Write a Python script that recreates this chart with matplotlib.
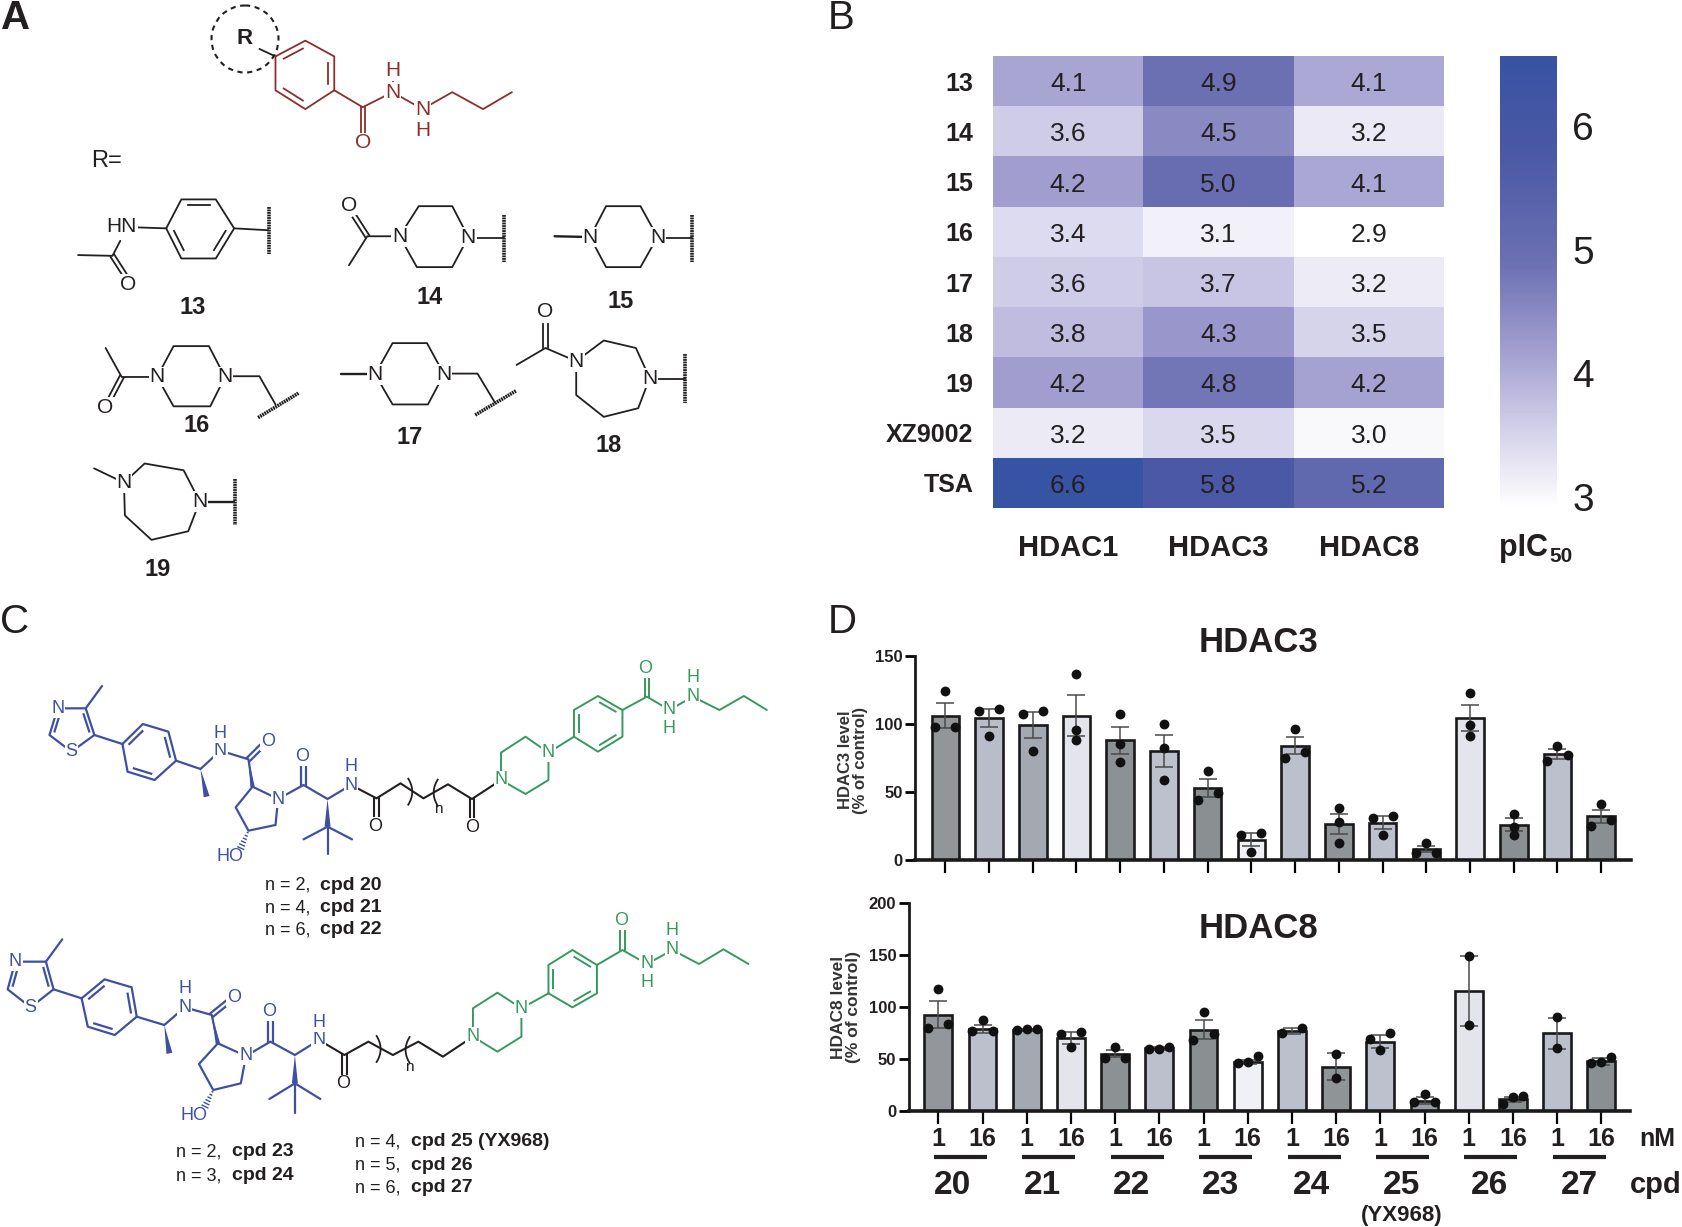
import matplotlib

matplotlib.use("Agg")
import matplotlib.pyplot as plt
import numpy as np
from matplotlib.colors import LinearSegmentedColormap, Normalize
from matplotlib.patches import Circle, Polygon

W, H = 1683, 1227
FONT = ["Liberation Sans", "DejaVu Sans"]
plt.rcParams["font.family"] = FONT

# panel B
ROWS = ["13", "14", "15", "16", "17", "18", "19", "XZ9002", "TSA"]
ENZYMES = ["HDAC1", "HDAC3", "HDAC8"]
PIC50 = [
    [4.10, 4.90, 4.06],
    [3.60, 4.50, 3.22],
    [4.20, 5.00, 4.08],
    [3.40, 3.10, 2.91],
    [3.60, 3.70, 3.18],
    [3.80, 4.30, 3.50],
    [4.20, 4.80, 4.15],
    [3.20, 3.45, 3.00],
    [6.57, 5.80, 5.20],
]
CMAP_VALUES = [2.91, 3.6, 4.2, 4.9, 5.8, 6.57]
CMAP_COLOURS = ["#ffffff", "#cfcce8", "#a19dcf", "#6b70b2", "#4a58a5", "#3753a3"]

# panel D
DOSES = ["1", "16"] * 8
COMPOUNDS = ["20", "21", "22", "23", "24", "25", "26", "27"]

HDAC3_MEAN = [106, 104, 99, 106, 88, 80, 53, 15, 84, 26.5, 27.5, 8, 104.5, 26, 78, 32]
HDAC3_SEM = [9.3, 6.7, 9.3, 15, 10, 12, 6.5, 4.8, 6.5, 7.5, 4.5, 2, 9.5, 4.7, 3.5, 4.7]
HDAC3_POINTS = [
    [124, 97.6, 97.6], [111, 109.4, 91], [109.4, 107, 80], [136.5, 95.4, 88],
    [107, 85, 72], [100, 82, 59], [65, 49, 44], [19.6, 18, 5.6],
    [96.4, 79.5, 75], [38, 28, 12.5], [32.5, 30.6, 18], [12.5, 5.4, 5.4],
    [122.6, 99, 91], [33.5, 24.5, 18], [84, 77, 72.5], [41, 29.4, 24.7],
]
HDAC3_COLOURS = [
    "#939699", "#b9bdca", "#a4a8b1", "#e3e4ec", "#8c9193", "#bcc1cd", "#8a9092", "#f0f1f5",
    "#bcc0cd", "#8f9497", "#bdc1ce", "#9a9ea4", "#e3e4ec", "#8a8f92", "#bcc0cd", "#8a8f92",
]

HDAC8_MEAN = [92.3, 79, 78, 70, 55, 60, 78, 47, 76.5, 42.5, 66.5, 9.5, 115, 11, 74.5, 47.5]
HDAC8_SEM = [13, 4, 1, 5.5, 3.5, 1.5, 9, 2, 3, 13, 6, 3.5, 33.5, 2.5, 15, 3.5]
HDAC8_POINTS = [
    [117, 83.6, 79.4], [87, 77, 77], [78, 78.5, 78.5], [76, 74.3, 61.7],
    [61.7, 51, 51], [61.4, 59.5, 59], [95, 74, 68], [53, 46.6, 45.7],
    [79.4, 75], [54.7, 31.8], [75, 69.5, 58], [16, 8, 8],
    [148.5, 83], [14.5, 13, 6.4], [90, 60], [51.5, 47, 45.7],
]
HDAC8_COLOURS = [
    "#93979b", "#bcc0cd", "#a4a8b1", "#e3e4ec", "#8c9193", "#bcc0cd", "#8a9092", "#f0f1f5",
    "#bcc0cd", "#8f9497", "#bdc1ce", "#9a9ea4", "#e3e4ec", "#8a8f92", "#bcc0cd", "#8a8f92",
]

RED = "#8b2f2b"
BLUE = "#3f50a2"
GREEN = "#369a5e"
INK = "#231f20"

# zoomed-crop scale and origin used when the structures were traced
ZA = (2.178, 2.658, 0, 0)
ZC1 = (1.96, 3.0, 0, 600)
ZC2 = (1.96, 3.0, 0, 900)


def rect(left, top, right, bottom):
    return [left / W, 1 - bottom / H, (right - left) / W, (bottom - top) / H]


fig = plt.figure(figsize=(W / 100, H / 100), dpi=100)
sheet = fig.add_axes([0, 0, 1, 1], zorder=5)
sheet.set_xlim(0, W)
sheet.set_ylim(H, 0)
sheet.axis("off")
sheet.patch.set_alpha(0)


def px(p, z):
    return np.array([p[0] / z[0] + z[2], p[1] / z[1] + z[3]])


def line(pts, z, color=INK, lw=1.3):
    xy = np.array([px(p, z) for p in pts])
    sheet.plot(xy[:, 0], xy[:, 1], color=color, lw=lw, solid_capstyle="round", zorder=1)


def double(p, q, z, color=INK, lw=1.3, gap=2.2):
    a, b = px(p, z), px(q, z)
    n = np.array([b[1] - a[1], a[0] - b[0]])
    n = n / np.hypot(*n) * gap
    for s in (-1, 1):
        sheet.plot([a[0] + s * n[0], b[0] + s * n[0]], [a[1] + s * n[1], b[1] + s * n[1]],
                   color=color, lw=lw, zorder=1)


def ring(pts, z, color=INK, lw=1.3, inner=()):
    line(list(pts) + [pts[0]], z, color, lw)
    xy = np.array([px(p, z) for p in pts])
    mid = xy.mean(axis=0)
    for i in inner:
        a, b = xy[i], xy[(i + 1) % len(xy)]
        a2 = a + (mid - a) * 0.2 + (b - a) * 0.08
        b2 = b + (mid - b) * 0.2 + (a - b) * 0.08
        sheet.plot([a2[0], b2[0]], [a2[1], b2[1]], color=color, lw=lw, zorder=1)


def wedge(p, q, z, color=BLUE, width=3.0):
    a, b = px(p, z), px(q, z)
    n = np.array([b[1] - a[1], a[0] - b[0]])
    n = n / np.hypot(*n) * width
    sheet.add_patch(Polygon([a, b + n, b - n], closed=True, color=color, lw=0, zorder=1))


def hashed(p, q, z, color=BLUE):
    a, b = px(p, z), px(q, z)
    n = np.array([b[1] - a[1], a[0] - b[0]])
    n = n / np.hypot(*n)
    for t in np.linspace(0.1, 0.9, 6):
        c = a + (b - a) * t
        sheet.plot([c[0] - n[0] * 3.5 * t, c[0] + n[0] * 3.5 * t],
                   [c[1] - n[1] * 3.5 * t, c[1] + n[1] * 3.5 * t], color=color, lw=1, zorder=1)


def squiggle(p, q, z):
    xy = np.array([px(p, z), px(q, z)])
    sheet.plot(xy[:, 0], xy[:, 1], color=INK, lw=2.6, ls=(0, (0.5, 0.2)), zorder=1)


def atom(text, p, z, color=INK, size=15, bg=True, weight="normal"):
    x, y = px(p, z)
    box = dict(fc="white", ec="none", pad=0.6) if bg else None
    sheet.text(x, y, text, color=color, fontsize=size, ha="center", va="center",
               fontweight=weight, bbox=box, zorder=3)


def label(text, x, y, size, weight="bold", ha="center", color=INK):
    sheet.text(x, y, text, fontsize=size, fontweight=weight, ha=ha, va="center", color=color, zorder=4)


# ---------------- panel A ----------------
label("A", 1, 18, 29, ha="left")
sheet.add_patch(Circle((245, 39), 33.5, fill=False, ec=INK, lw=1.5, ls=(0, (2.5, 2.2)), zorder=1))
atom("R", (533, 103), ZA, size=16, bg=False, weight="bold")
line([(565, 130), (600, 150)], ZA)
ring([(600, 150), (665, 108), (728, 150), (728, 240), (665, 290), (600, 240)], ZA, RED,
     inner=[0, 2, 4])
line([(728, 240), (790, 285), (855, 245)], ZA, RED)
double((790, 285), (790, 355), ZA, RED)
atom("O", (790, 380), ZA, RED)
line([(855, 245), (920, 290), (985, 245), (1052, 290), (1115, 245)], ZA, RED)
line([(855, 245), (855, 200)], ZA, RED)
atom("N", (855, 245), ZA, RED)
atom("H", (855, 187), ZA, RED)
atom("N", (920, 290), ZA, RED)
atom("H", (920, 347), ZA, RED)
label("R=", 107, 161, 17, weight="normal")

# 13
ring([(362, 607), (395, 530), (470, 530), (510, 607), (470, 687), (395, 687)], ZA, inner=[1, 3, 5])
line([(265, 603), (362, 607)], ZA)
line([(510, 607), (585, 612)], ZA)
line([(262, 640), (245, 680), (170, 678)], ZA)
double((245, 680), (274, 735), ZA)
atom("HN", (265, 603), ZA)
atom("O", (280, 757), ZA)
squiggle((585, 550), (585, 675), ZA)
label("13", 193, 307, 17)

# 14
ring([(870, 628), (912, 548), (985, 548), (1020, 630), (985, 710), (908, 710)], ZA)
line([(760, 705), (800, 628), (870, 628)], ZA)
double((800, 628), (772, 575), ZA)
line([(1020, 632), (1097, 632)], ZA)
atom("O", (760, 545), ZA)
atom("N", (870, 628), ZA)
atom("N", (1020, 630), ZA)
squiggle((1097, 572), (1097, 697), ZA)
label("14", 430, 297, 17)

# 15
ring([(1285, 630), (1320, 548), (1395, 548), (1432, 630), (1395, 710), (1320, 710)], ZA)
line([(1208, 628), (1285, 630)], ZA, lw=1.7)
line([(1432, 632), (1508, 632)], ZA)
atom("N", (1285, 630), ZA)
atom("N", (1432, 630), ZA)
squiggle((1508, 572), (1508, 697), ZA)
label("15", 621, 301, 17)

# 16
ring([(342, 1002), (378, 920), (455, 920), (490, 1002), (458, 1080), (378, 1080)], ZA)
line([(230, 925), (265, 1002), (342, 1002)], ZA)
double((265, 1002), (240, 1060), ZA)
line([(490, 1000), (565, 1000), (600, 1075)], ZA)
atom("O", (230, 1082), ZA)
atom("N", (342, 1002), ZA)
atom("N", (490, 1002), ZA)
squiggle((562, 1110), (650, 1045), ZA)
label("16", 197, 425, 17)

# 17
ring([(817, 995), (855, 912), (930, 912), (967, 995), (932, 1075), (855, 1075)], ZA)
line([(742, 995), (817, 995)], ZA, lw=1.7)
line([(967, 993), (1040, 993), (1078, 1070)], ZA)
atom("N", (817, 995), ZA)
atom("N", (967, 995), ZA)
squiggle((1035, 1103), (1125, 1038), ZA)
label("17", 410, 438, 17)

# 18
ring([(1255, 960), (1315, 905), (1385, 925), (1415, 1005), (1390, 1085), (1315, 1108), (1255, 1050)], ZA)
line([(1125, 970), (1188, 925), (1255, 960)], ZA)
double((1188, 925), (1188, 860), ZA)
line([(1415, 1007), (1492, 1007)], ZA)
atom("O", (1187, 828), ZA)
atom("N", (1255, 960), ZA)
atom("N", (1415, 1005), ZA)
squiggle((1493, 942), (1493, 1070), ZA)
label("18", 609, 445, 17)

# 19
ring([(270, 1283), (315, 1232), (400, 1250), (435, 1333), (410, 1412), (330, 1435), (272, 1370)], ZA)
line([(205, 1245), (270, 1283)], ZA)
line([(435, 1335), (510, 1335)], ZA, lw=1.7)
atom("N", (270, 1283), ZA)
atom("N", (435, 1333), ZA)
squiggle((511, 1272), (511, 1395), ZA)
label("19", 158, 570, 17)


# ---------------- panel C ----------------
def vhl_part(z, c):
    """Blue ligand half; c holds the traced anchor coordinates for this drawing."""
    ring(c["thiazole"], z, BLUE, 1.6, inner=[1, 4])
    line([c["thiazole"][1], c["methyl"]], z, BLUE, 1.6)
    line([c["thiazole"][2], c["phenyl"][0]], z, BLUE, 1.6)
    ring(c["phenyl"], z, BLUE, 1.6, inner=[0, 2, 4])
    line([c["phenyl"][3], c["chiral"], c["nh"], c["amide"], c["pyr"][0]], z, BLUE, 1.6)
    wedge(c["chiral"], c["me"], z)
    wedge(c["amide"], c["pyr"][0], z, width=2.2)
    double(c["amide"], c["o1_end"], z, BLUE, 1.6)
    ring(c["pyr"], z, BLUE, 1.6)
    hashed(c["pyr"][3], c["ho_end"], z)
    line([c["pyr"][1], c["c2"], c["c3"], c["nh2"]], z, BLUE, 1.6)
    double(c["c2"], c["o2_end"], z, BLUE, 1.6)
    wedge(c["c3"], c["tbu"], z)
    for end in c["tbu_ends"]:
        line([c["tbu"], end], z, BLUE, 1.6)
    atom("N", c["thiazole"][0], z, BLUE, 13)
    atom("S", c["thiazole"][3], z, BLUE, 13)
    atom("N", c["nh"], z, BLUE, 13)
    atom("H", c["h1"], z, BLUE, 13)
    atom("O", c["o1"], z, BLUE, 13)
    atom("N", c["pyr"][1], z, BLUE, 13)
    atom("O", c["o2"], z, BLUE, 13)
    atom("N", c["nh2"], z, BLUE, 13)
    atom("H", c["h2"], z, BLUE, 13)
    atom("HO", c["ho"], z, BLUE, 13, bg=False)


def hydrazide_part(z, c):
    ring(c["pip"], z, GREEN, 1.4)
    line([c["pip"][3], c["ph"][0]], z, GREEN, 1.4)
    ring(c["ph"], z, GREEN, 1.4, inner=[0, 2, 4])
    line([c["ph"][3], c["co"], c["n1"], c["n2"]] + c["tail"], z, GREEN, 1.4)
    double(c["co"], c["o_end"], z, GREEN, 1.4)
    atom("N", c["pip"][0], z, GREEN, 13)
    atom("N", c["pip"][3], z, GREEN, 13)
    atom("O", c["o"], z, GREEN, 13)
    atom("N", c["n1"], z, GREEN, 13)
    atom("H", c["h1"], z, GREEN, 13)
    atom("N", c["n2"], z, GREEN, 13)
    atom("H", c["h2"], z, GREEN, 13)


def bracket(p, z, sign):
    x, y = px(p, z)
    t = np.linspace(-1, 1, 20)
    sheet.plot(x + sign * 4 * t ** 2, y + 13 * t, color=INK, lw=1.3, zorder=2)


label("C", 0, 622, 29, ha="left", weight="normal")

vhl_part(ZC1, dict(
    thiazole=[(113, 325), (168, 325), (185, 405), (140, 455), (97, 405)], methyl=(200, 258),
    phenyl=[(240, 432), (280, 372), (330, 395), (345, 482), (303, 540), (250, 515)],
    chiral=(393, 507), me=(405, 590), nh=(432, 452), h1=(432, 400), amide=(487, 478),
    o1_end=(512, 440), o1=(525, 425), pyr=[(495, 560), (545, 597), (540, 675), (487, 692), (462, 622)],
    ho_end=(470, 750), ho=(450, 770), c2=(595, 555), o2_end=(595, 495), o2=(593, 470), c3=(642, 597),
    tbu=(642, 680), tbu_ends=[(595, 718), (690, 718), (642, 762)], nh2=(688, 555), h2=(688, 500),
))
line([(688, 555), (738, 595), (785, 550), (830, 595), (878, 553), (925, 597), (982, 540)], ZC1, INK, 1.5)
double((738, 595), (738, 655), ZC1, INK, 1.5)
double((925, 597), (925, 655), ZC1, INK, 1.5)
atom("O", (735, 680), ZC1, INK, 13)
atom("O", (925, 682), ZC1, INK, 13)
bracket((808, 575), ZC1, -1)
bracket((850, 578), ZC1, 1)
atom("n", (860, 628), ZC1, INK, 11, bg=False)
hydrazide_part(ZC1, dict(
    pip=[(982, 540), (982, 458), (1030, 410), (1075, 458), (1075, 540), (1030, 582)],
    ph=[(1125, 410), (1125, 330), (1172, 288), (1220, 330), (1220, 410), (1172, 455)],
    co=(1268, 290), o_end=(1268, 228), o=(1265, 205), n1=(1312, 330), h1=(1312, 385),
    n2=(1358, 290), h2=(1358, 232), tail=[(1410, 330), (1458, 288), (1503, 330)],
))

vhl_part(ZC2, dict(
    thiazole=[(30, 185), (90, 185), (105, 268), (60, 322), (15, 268)], methyl=(122, 118),
    phenyl=[(160, 295), (205, 238), (258, 262), (268, 350), (225, 405), (172, 380)],
    chiral=(322, 375), me=(332, 460), nh=(362, 322), h1=(362, 265), amide=(415, 345),
    o1_end=(445, 308), o1=(458, 292), pyr=[(427, 430), (482, 468), (472, 550), (418, 570), (390, 492)],
    ho_end=(400, 625), ho=(380, 648), c2=(530, 425), o2_end=(530, 365), o2=(528, 335), c3=(578, 465),
    tbu=(578, 550), tbu_ends=[(528, 597), (628, 597), (578, 640)], nh2=(625, 420), h2=(625, 368),
))
line([(625, 420), (675, 465), (722, 425), (770, 465), (820, 425), (868, 470), (927, 410)], ZC2, INK, 1.5)
double((675, 465), (675, 525), ZC2, INK, 1.5)
atom("O", (673, 552), ZC2, INK, 13)
bracket((746, 447), ZC2, -1)
bracket((795, 450), ZC2, 1)
atom("n", (803, 500), ZC2, INK, 11, bg=False)
hydrazide_part(ZC2, dict(
    pip=[(927, 410), (927, 325), (975, 278), (1022, 325), (1022, 410), (975, 455)],
    ph=[(1075, 280), (1075, 195), (1122, 150), (1170, 195), (1170, 280), (1122, 322)],
    co=(1220, 150), o_end=(1220, 90), o=(1218, 62), n1=(1268, 192), h1=(1268, 248),
    n2=(1318, 150), h2=(1318, 92), tail=[(1370, 192), (1418, 148), (1467, 192)],
))

for x_n, x_c, y, left, right in [
    (265, 320, 885, "n = 2,", "cpd 20"), (265, 320, 908, "n = 4,", "cpd 21"), (265, 320, 930, "n = 6,", "cpd 22"),
    (176, 232, 1152, "n = 2,", "cpd 23"), (176, 232, 1176, "n = 3,", "cpd 24"),
    (355, 411, 1142, "n = 4,", "cpd 25 (YX968)"), (355, 411, 1165, "n = 5,", "cpd 26"), (355, 411, 1188, "n = 6,", "cpd 27"),
]:
    label(left, x_n, y, 13, weight="normal", ha="left")
    label(right, x_c, y, 14, ha="left")

# ---------------- panel B ----------------
label("B", 828, 18, 29, ha="left", weight="normal")
heat = fig.add_axes(rect(993, 56, 1444, 508))
pic50 = np.array(PIC50)
vmin, vmax = CMAP_VALUES[0], CMAP_VALUES[-1]
stops = [(v - vmin) / (vmax - vmin) for v in CMAP_VALUES]
cmap = LinearSegmentedColormap.from_list("pic50", list(zip(stops, CMAP_COLOURS)))
mesh = heat.pcolormesh(pic50, cmap=cmap, norm=Normalize(vmin, vmax))
heat.invert_yaxis()
heat.set_xticks(np.arange(3) + 0.5, ENZYMES, fontsize=21, fontweight="bold", color=INK)
heat.set_yticks(np.arange(9) + 0.5, ROWS, fontsize=18, fontweight="bold", color=INK)
heat.tick_params(length=0)
heat.tick_params(axis="x", pad=19)
heat.tick_params(axis="y", pad=14)
for spine in heat.spines.values():
    spine.set_visible(False)
for r, row in enumerate(pic50):
    for c, value in enumerate(row):
        heat.text(c + 0.5, r + 0.56, f"{value:.1f}", ha="center", va="center", fontsize=19, color=INK)

cax = fig.add_axes(rect(1500, 56, 1557, 508))
bar = fig.colorbar(mesh, cax=cax, ticks=[3, 4, 5, 6])
bar.outline.set_visible(False)
bar.ax.tick_params(length=0, labelsize=28, pad=11, labelcolor=INK)
label("pIC", 1499, 548, 22, ha="left")
label("50", 1549, 556, 15, ha="left")


# ---------------- panel D ----------------
def spread(values, close):
    """Side-by-side offsets for replicate dots that would overlap."""
    order = np.argsort(values)
    offsets = np.zeros(len(values))
    group = [order[0]]
    groups = []
    for i in order[1:]:
        if values[i] - values[group[-1]] < close:
            group.append(i)
        else:
            groups.append(group)
            group = [i]
    groups.append(group)
    for g in groups:
        if len(g) > 1:
            offsets[g] = np.linspace(-0.23, 0.23, len(g))
    return offsets


def draw_bars(ax, means, sems, points, colours, ymax, yticks, close):
    x = np.arange(len(means))
    ax.bar(x, means, width=0.63, color=colours, edgecolor="#1a1a1a", linewidth=1.9, zorder=2)
    ax.errorbar(x, means, yerr=sems, fmt="none", ecolor="#4a4a4a", elinewidth=1.1, capsize=6.5,
                capthick=1.1, zorder=3)
    for i, values in enumerate(points):
        values = np.array(values, dtype=float)
        ax.scatter(i + spread(values, close), values, s=50, color="#111111", lw=0, zorder=4, clip_on=False)
    ax.set_ylim(0, ymax)
    ax.set_yticks(yticks)
    ax.set_xticks(x)
    ax.set_xticklabels([])
    ax.spines[["top", "right"]].set_visible(False)
    ax.spines["left"].set_linewidth(2)
    ax.spines["bottom"].set_linewidth(2.6)
    ax.spines["left"].set_color("#1a1a1a")
    ax.spines["bottom"].set_color("#1a1a1a")
    ax.tick_params(axis="y", length=7, width=2, labelsize=12, pad=2, labelcolor=INK)
    ax.tick_params(axis="x", length=9, width=1.6)
    for text in ax.get_yticklabels():
        text.set_fontweight("bold")
    ax.patch.set_alpha(0)


label("D", 828, 622, 29, ha="left", weight="normal")

top = fig.add_axes(rect(915.4, 655.7, 1630.5, 860))
draw_bars(top, HDAC3_MEAN, HDAC3_SEM, HDAC3_POINTS, HDAC3_COLOURS, 150, [0, 50, 100, 150], 6)
top.set_xlim(-0.684, 15.67)
label("HDAC3", 1259, 642, 25)
sheet.text(853, 760, "HDAC3 level\n(% of control)", rotation=90, fontsize=12, fontweight="bold",
           ha="center", va="center", color="#333333", linespacing=1.05)

low = fig.add_axes(rect(908.7, 903, 1630.5, 1110.7))
draw_bars(low, HDAC8_MEAN, HDAC8_SEM, HDAC8_POINTS, HDAC8_COLOURS, 200, [0, 50, 100, 150, 200], 7)
low.set_xlim(-0.67, 15.66)
low.set_xticklabels(DOSES, fontsize=18, fontweight="bold", color=INK)
low.tick_params(axis="x", pad=3)
label("HDAC8", 1259, 929, 25)
sheet.text(846, 1007, "HDAC8 level\n(% of control)", rotation=90, fontsize=12.5, fontweight="bold",
           ha="center", va="center", color="#333333", linespacing=1.05)

trans = low.get_xaxis_transform()
for i in range(len(COMPOUNDS)):
    x0 = 2 * i + 0.5
    low.plot([x0 - 0.6, x0 + 0.6], [-0.225, -0.225], transform=trans, color=INK, lw=3, clip_on=False,
             solid_capstyle="butt")
for name, x in zip(COMPOUNDS, [953, 1042, 1132, 1221, 1311, 1402, 1490, 1579]):
    label(name, x, 1185, 24)
label("(YX968)", 1402, 1216, 16)
label("nM", 1657, 1139, 18)
label("cpd", 1682, 1185, 21, ha="right")

fig.savefig("out.png", dpi=100)
